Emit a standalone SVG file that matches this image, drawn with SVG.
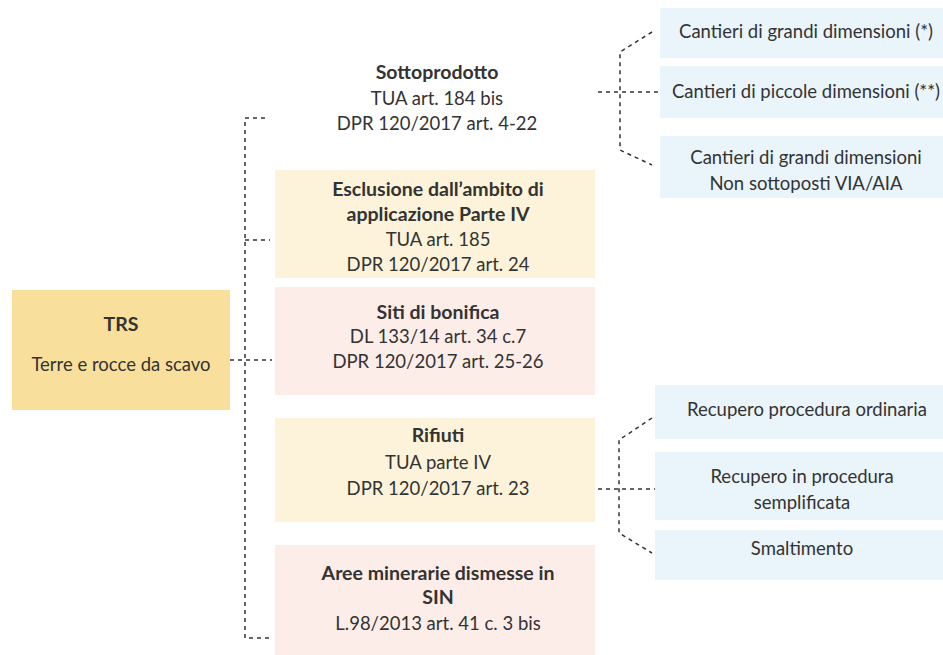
<svg xmlns="http://www.w3.org/2000/svg" width="943" height="655" viewBox="0 0 943 655">
<style>
text{font-family:Lato,"Liberation Sans",sans-serif;fill:#333;font-size:18.5px;text-anchor:middle}
.b{font-weight:bold;font-size:19.5px}
.c{fill:none;stroke:#333;stroke-width:1.5;stroke-dasharray:4 4}
.y{fill:#fdf3da}
.p{fill:#fdede8}
.bl{fill:#eaf4fb}
</style>
<rect width="943" height="655" fill="#fff"/>
<g id="trs"><rect x="12" y="290" width="218" height="120" fill="#f8df9c"/><text x="121" y="331" class="b">TRS</text><text x="121" y="371">Terre e rocce da scavo</text></g>
<g id="sottoprodotto"><text x="437" y="79" class="b">Sottoprodotto</text><text x="437" y="105">TUA art. 184 bis</text><text x="437" y="130">DPR 120/2017 art. 4-22</text></g>
<g id="esclusione"><rect x="275" y="170" width="320" height="108" class="y"/><text x="438" y="196" class="b">Esclusione dall’ambito di</text><text x="438" y="221" class="b">applicazione Parte IV</text><text x="438" y="246">TUA art. 185</text><text x="438" y="271">DPR 120/2017 art. 24</text></g>
<g id="bonifica"><rect x="275" y="287" width="320" height="108" class="p"/><text x="438" y="319" class="b">Siti di bonifica</text><text x="438" y="343">DL 133/14 art. 34 c.7</text><text x="438" y="368">DPR 120/2017 art. 25-26</text></g>
<g id="rifiuti"><rect x="275" y="418" width="320" height="104" class="y"/><text x="438" y="442" class="b">Rifiuti</text><text x="438" y="469">TUA parte IV</text><text x="438" y="495">DPR 120/2017 art. 23</text></g>
<g id="aree"><rect x="275" y="545" width="320" height="110" class="p"/><text x="438" y="580" class="b">Aree minerarie dismesse in</text><text x="438" y="604" class="b">SIN</text><text x="438" y="630">L.98/2013 art. 41 c. 3 bis</text></g>
<g id="cg"><rect x="660" y="8" width="283" height="50" class="bl"/><text x="806" y="38" font-size="16">Cantieri di grandi dimensioni (*)</text></g>
<g id="cp"><rect x="660" y="66" width="283" height="52" class="bl"/><text x="806" y="98" font-size="16">Cantieri di piccole dimensioni (**)</text></g>
<g id="cgn"><rect x="660" y="136" width="283" height="62" class="bl"/><text x="806" y="164">Cantieri di grandi dimensioni</text><text x="806" y="190">Non sottoposti VIA/AIA</text></g>
<g id="ro"><rect x="655" y="385" width="288" height="54" class="bl"/><text x="807" y="416">Recupero procedura ordinaria</text></g>
<g id="rs"><rect x="655" y="452" width="288" height="68" class="bl"/><text x="802" y="483">Recupero in procedura</text><text x="802" y="509">semplificata</text></g>
<g id="sm"><rect x="655" y="530" width="288" height="50" class="bl"/><text x="802" y="555" font-size="17">Smaltimento</text></g>
<g id="connectors">
<path class="c" d="M265 118 H245 V638 H270"/>
<path class="c" d="M245 240 H270"/>
<path class="c" d="M230 360 H272"/>
<path class="c" d="M598 92 H662"/>
<path class="c" d="M652 32 L620 52 V150 L652 165"/>
<path class="c" d="M598 489 H655"/>
<path class="c" d="M652 418 L619 440 V533 L652 553"/>
</g>
</svg>
